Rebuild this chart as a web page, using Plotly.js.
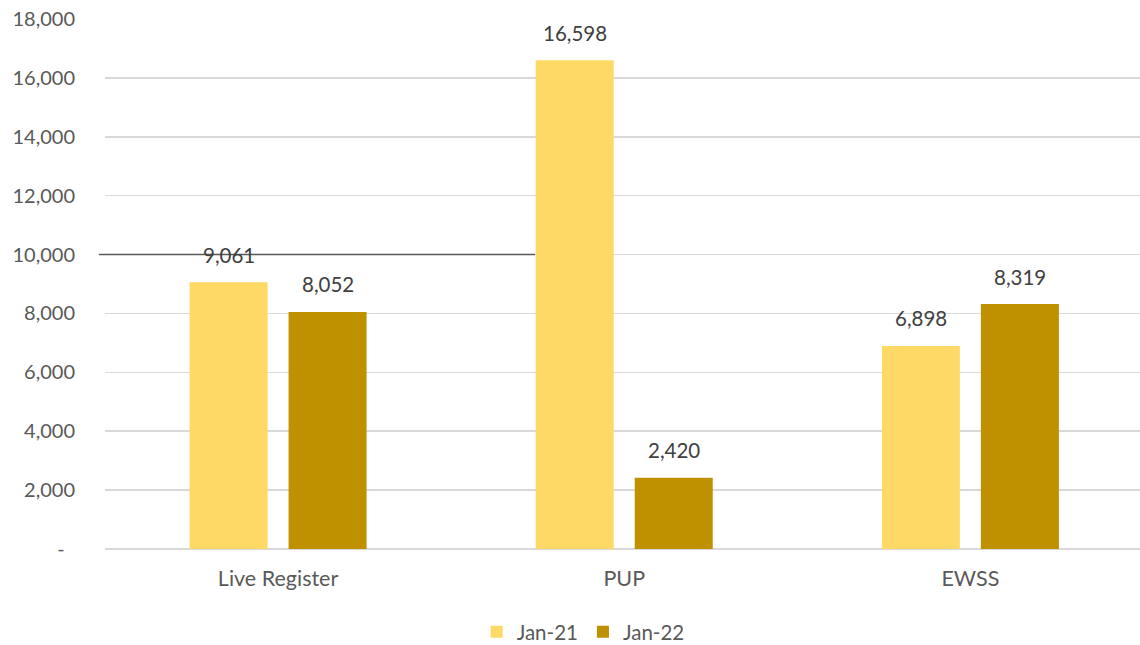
<!DOCTYPE html>
<html>
<head>
<meta charset="utf-8">
<script src="https://cdn.plot.ly/plotly-3.0.1.min.js"></script>
<style>html,body{margin:0;padding:0;background:#fff;}#chart{width:1140px;height:645px;}</style>
</head>
<body>
<div id="chart"></div>
<script>
const categories = ["Live Register", "PUP", "EWSS"];
const seriesNames = ["Jan-21", "Jan-22"];
const jan21 = [9061, 16598, 6898];
const jan22 = [8052, 2420, 8319];
const tickValues = [0, 2000, 4000, 6000, 8000, 10000, 12000, 14000, 16000, 18000];
const tickLabels = ["-\u00a0\u00a0", "2,000", "4,000", "6,000", "8,000", "10,000", "12,000", "14,000", "16,000", "18,000"];
const refLineValue = 10000;

const colors = ["#FFD966", "#BF9000"];
const fontFam = "Lato, 'Open Sans', sans-serif";
const fmt = v => v.toLocaleString("en-US");

const traces = [jan21, jan22].map((vals, i) => ({
  type: "bar",
  name: seriesNames[i],
  x: categories,
  y: vals,
  marker: {color: colors[i]},
  hoverinfo: "none"
}));

const annotations = [];
[jan21, jan22].forEach((vals, i) => {
  vals.forEach((v, j) => {
    annotations.push({
      x: categories[j], y: v, xref: "x", yref: "y",
      text: fmt(v), showarrow: false,
      xshift: i === 0 ? -49.5 : 49.5, yshift: 27.5,
      font: {family: fontFam, size: 20.5, color: "#404040"}
    });
  });
});

const layout = {
  width: 1140, height: 645,
  margin: {l: 105, r: 0, t: 19, b: 96},
  paper_bgcolor: "#fff", plot_bgcolor: "#fff",
  barmode: "group", bargap: 0.428, bargroupgap: 0.212,
  font: {family: fontFam, size: 20, color: "#595959"},
  xaxis: {
    type: "category",
    range: [-0.5, 2.49],
    tickfont: {family: fontFam, size: 21.5, color: "#595959"},
    showgrid: false, zeroline: false, showline: false,
    ticks: "", ticklabelstandoff: 14, fixedrange: true
  },
  yaxis: {
    range: [0, 18000],
    tickvals: tickValues, ticktext: tickLabels,
    tickfont: {family: fontFam, size: 20, color: "#595959"},
    showgrid: true, gridcolor: "#D9D9D9", gridwidth: 1.5,
    zeroline: true, zerolinecolor: "#D9D9D9", zerolinewidth: 1.5,
    showline: false, ticks: "", ticklabelstandoff: 29, fixedrange: true
  },
  shapes: [{
    type: "line", xref: "paper", yref: "y", layer: "above",
    x0: -0.006, x1: 0.4155, y0: refLineValue, y1: refLineValue,
    line: {color: "#595959", width: 1.5}
  }],
  annotations: annotations,
  showlegend: true,
  legend: {
    orientation: "h", xref: "paper", x: 0.462, xanchor: "center",
    yref: "container", y: 0.0202, yanchor: "middle",
    font: {family: fontFam, size: 20.5, color: "#595959"},
    itemwidth: 30, tracegroupgap: 0
  }
};

Plotly.newPlot("chart", traces, layout, {displayModeBar: false, staticPlot: true});
</script>
</body>
</html>
